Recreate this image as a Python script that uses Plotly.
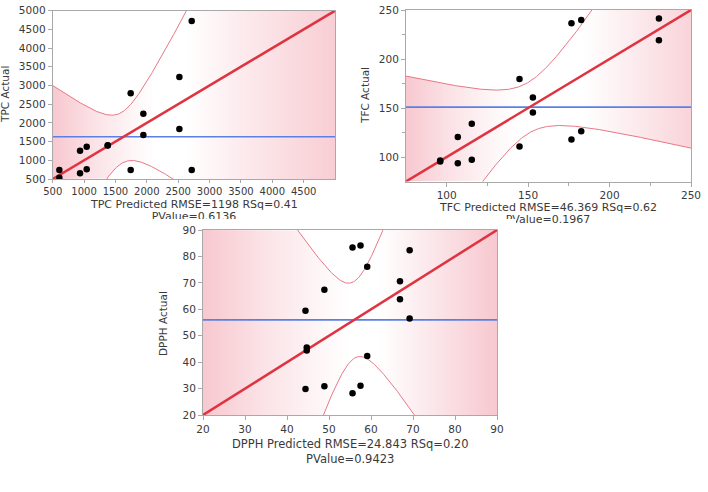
import numpy as np
import plotly.graph_objects as go

# ---------------- data ----------------
tpc_pred   = [606, 606, 936, 936, 1042, 1042, 1377, 1377, 1743, 1743, 1945, 1945, 2519, 2519, 2716, 2716]
tpc_actual = [741, 536, 1258, 652, 1365, 759, 1400, 1395, 2790, 741, 2247, 1677, 3228, 1837, 4724, 741]

tfc_pred   = [96, 96, 106.8, 106.8, 115.4, 115.4, 144.7, 144.7, 152.9, 152.9, 176.6, 176.6, 182.6, 182.6, 230.3, 230.3]
tfc_actual = [96.5, 95.5, 93.5, 120.5, 134, 97.3, 179.5, 110.6, 160.6, 145.5, 236.6, 117.8, 239.7, 126.4, 241.4, 219.2]

dpph_pred   = [44.4, 44.4, 44.7, 44.7, 48.9, 48.9, 55.6, 55.6, 57.5, 57.5, 59.1, 59.1, 66.9, 66.9, 69.2, 69.2]
dpph_actual = [59.4, 29.8, 45.5, 44.4, 67.4, 30.9, 83.4, 28.2, 84.1, 31.1, 76.1, 42.3, 70.6, 63.8, 82.3, 56.5]

# axis ranges and tick labels
tpc_range = [500, 5000]
tpc_xticks = [500, 1000, 1500, 2000, 2500, 3000, 3500, 4000, 4500]
tpc_yticks = [500, 1000, 1500, 2000, 2500, 3000, 3500, 4000, 4500, 5000]
tfc_range = [75, 250]
tfc_ticks = [100, 150, 200, 250]
tfc_minor = [125, 175, 225]
dpph_range = [20, 90]
dpph_ticks = [20, 30, 40, 50, 60, 70, 80, 90]

# confidence-curve parameters: (centre, variance at centre, slope factor)
tpc_band = (1600, 462000, 4.78)
tfc_band = (150.2, 678, 1.926)
dpph_band = (56.0, 211, 11.2)

tpc_xtitle = "TPC Predicted RMSE=1198 RSq=0.41"
tfc_xtitle = "TFC Predicted RMSE=46.369 RSq=0.62"
dpph_xtitle = "DPPH Predicted RMSE=24.843 RSq=0.20"
tpc_p = "PValue=0.6136"
tfc_p = "PValue=0.1967"
dpph_p = "PValue=0.9423"

# ---------------- style ----------------
W, H = 708, 492
FONT = "DejaVu Sans"
TXT = "#3a3a3a"
AX = "#a9a9a9"
RED = "#df3340"
BLUE = "#5b80e4"
CURVE = "rgba(232,112,128,0.95)"
PINK = "rgb(247,200,207)"

def px(x):
    return x / W

def py(y):
    return 1 - y / H

panels = [
    dict(pred=tpc_pred, act=tpc_actual, rng=tpc_range, band=tpc_band,
         xa="x", ya="y", dom_x=[px(52.7), px(335)], dom_y=[py(179), py(10.7)],
         scale=[[0, PINK], [0.14, "rgb(251,225,229)"], [0.3, "rgb(254,248,249)"], [0.36, "white"],
                [0.47, "white"], [0.7, "rgb(252,232,235)"], [1, "rgb(248,206,212)"]]),
    dict(pred=tfc_pred, act=tfc_actual, rng=tfc_range, band=tfc_band,
         xa="x2", ya="y2", dom_x=[px(406), px(691)], dom_y=[py(181.5), py(10)],
         scale=[[0, PINK], [0.15, "rgb(251,226,230)"], [0.32, "rgb(254,248,249)"], [0.4, "white"],
                [0.62, "white"], [0.8, "rgb(252,235,238)"], [1, "rgb(249,212,217)"]]),
    dict(pred=dpph_pred, act=dpph_actual, rng=dpph_range, band=dpph_band,
         xa="x3", ya="y3", dom_x=[px(203), px(497)], dom_y=[py(415), py(230)],
         scale=[[0, PINK], [0.2, "rgb(251,226,230)"], [0.42, "rgb(254,248,249)"], [0.5, "white"],
                [0.6, "white"], [0.8, "rgb(251,228,232)"], [1, "rgb(247,200,207)"]]),
]

fig = go.Figure()

for p in panels:
    lo, hi = p["rng"]
    m, A, B = p["band"]
    xs = np.linspace(lo, hi, 600)
    hw = np.sqrt(A + B * (xs - m) ** 2)
    up = xs + hw
    dn = xs - hw
    # shaded band (clipped to the frame)
    fig.add_trace(go.Scatter(x=xs, y=np.clip(dn, lo, hi), mode="lines", line=dict(width=0),
                             xaxis=p["xa"], yaxis=p["ya"], hoverinfo="skip", showlegend=False))
    fig.add_trace(go.Scatter(x=xs, y=np.clip(up, lo, hi), mode="lines", line=dict(width=0),
                             fill="tonexty",
                             fillgradient=dict(type="horizontal", colorscale=p["scale"], start=lo, stop=hi),
                             xaxis=p["xa"], yaxis=p["ya"], hoverinfo="skip", showlegend=False))
    # confidence curves
    for yy in (up, dn):
        fig.add_trace(go.Scatter(x=xs, y=yy, mode="lines", line=dict(color=CURVE, width=1),
                                 xaxis=p["xa"], yaxis=p["ya"], hoverinfo="skip", showlegend=False))
    # mean line
    mean_y = float(np.mean(p["act"]))
    fig.add_trace(go.Scatter(x=[lo, hi], y=[mean_y, mean_y], mode="lines",
                             line=dict(color=BLUE, width=1.6),
                             xaxis=p["xa"], yaxis=p["ya"], showlegend=False))
    # fit line y = x
    fig.add_trace(go.Scatter(x=[lo, hi], y=[lo, hi], mode="lines",
                             line=dict(color=RED, width=2.5),
                             xaxis=p["xa"], yaxis=p["ya"], showlegend=False))
    # points
    fig.add_trace(go.Scatter(x=p["pred"], y=p["act"], mode="markers",
                             marker=dict(color="black", size=6.5),
                             xaxis=p["xa"], yaxis=p["ya"], showlegend=False))

axis_common = dict(showline=True, linecolor=AX, linewidth=1, mirror=True, ticks="outside",
                   ticklen=4, tickcolor=AX, showgrid=False, zeroline=False, automargin=False,
                   tickfont=dict(family=FONT, size=10.5, color=TXT))
tpc_x_common = dict(axis_common, ticklen=3, tickfont=dict(family=FONT, size=10, color=TXT))

layout = dict(
    width=W, height=H, margin=dict(l=0, r=0, t=0, b=0, autoexpand=False),
    paper_bgcolor="white", plot_bgcolor="rgba(0,0,0,0)", showlegend=False,
    font=dict(family=FONT, color=TXT),
    xaxis=dict(domain=panels[0]["dom_x"], range=tpc_range, tickvals=tpc_xticks, anchor="y", **tpc_x_common),
    yaxis=dict(domain=panels[0]["dom_y"], range=tpc_range, tickvals=tpc_yticks, anchor="x", **axis_common),
    xaxis2=dict(domain=panels[1]["dom_x"], range=tfc_range, tickvals=tfc_ticks, anchor="y2",
                minor=dict(tickvals=tfc_minor, ticks="outside", ticklen=3, tickcolor=AX), **axis_common),
    yaxis2=dict(domain=panels[1]["dom_y"], range=tfc_range, tickvals=tfc_ticks, anchor="x2",
                minor=dict(tickvals=tfc_minor, ticks="outside", ticklen=3, tickcolor=AX), **axis_common),
    xaxis3=dict(domain=panels[2]["dom_x"], range=dpph_range, tickvals=dpph_ticks, anchor="y3", **axis_common),
    yaxis3=dict(domain=panels[2]["dom_y"], range=dpph_range, tickvals=dpph_ticks, anchor="x3", **axis_common),
    xaxis4=dict(domain=[0, 1], range=[0, W], visible=False, anchor="y4", fixedrange=True),
    yaxis4=dict(domain=[0, 1], range=[H, 0], visible=False, anchor="x4", fixedrange=True),
)
fig.update_layout(**layout)

# second title lines (partly hidden under the lower panel, as in the source)
fig.add_trace(go.Scatter(x=[194, 548], y=[217.5, 220.5], mode="text", text=[tpc_p, tfc_p],
                         textfont=dict(family=FONT, size=11, color=TXT),
                         xaxis="x4", yaxis="y4", hoverinfo="skip", showlegend=False))

fig.add_shape(type="rect", xref="paper", yref="paper", x0=px(135), x1=px(516),
              y0=py(226), y1=py(219), fillcolor="white", line=dict(width=0), layer="above")

def ann(text, x, y, size=10.5, angle=0):
    fig.add_annotation(text=text, x=px(x), y=py(y), xref="paper", yref="paper",
                       xanchor="center", yanchor="middle", showarrow=False, textangle=angle,
                       font=dict(family=FONT, size=size, color=TXT))

ann(tpc_xtitle, 194, 204.5, size=11)
ann(tfc_xtitle, 548, 207.5, size=11)
ann(dpph_xtitle, 350, 443.5, size=11.5)
ann(dpph_p, 350, 458.5, size=11.5)
ann("TPC Actual", 5, 95, angle=-90)
ann("TFC Actual", 365, 96, angle=-90)
ann("DPPH Actual", 163, 324, angle=-90)

fig.write_html("out.html", config={"displayModeBar": False},
               post_script="document.body.style.margin='0px';document.body.style.overflow='hidden';")
